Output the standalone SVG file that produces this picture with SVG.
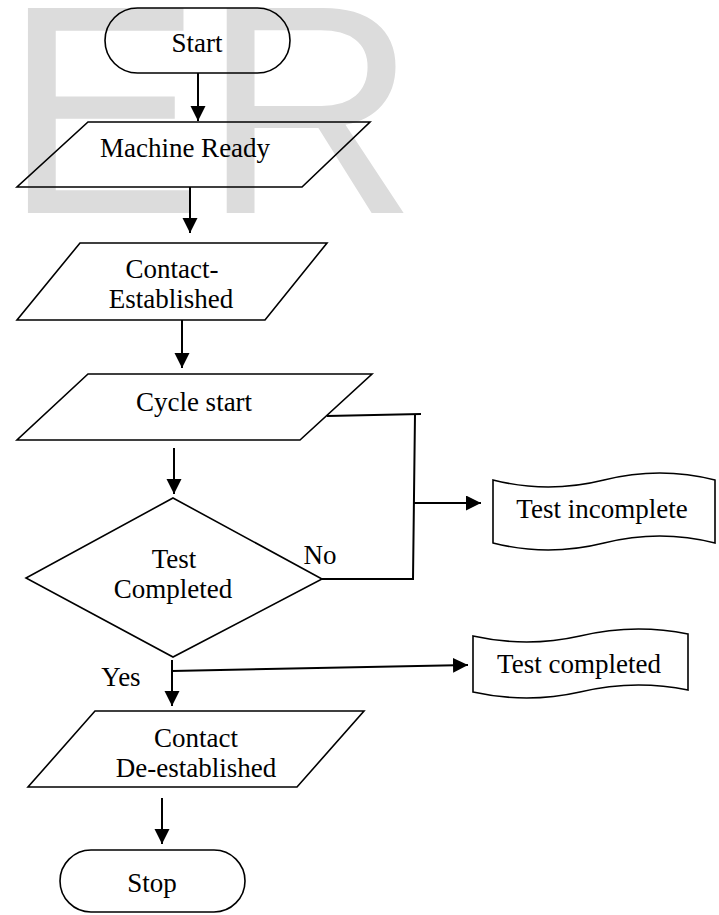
<svg xmlns="http://www.w3.org/2000/svg" width="719" height="915" viewBox="0 0 719 915">
<style>
.shape{fill:none;stroke:#000;stroke-width:1.6}
.conn{fill:none;stroke:#000;stroke-width:2}
.arr{marker-end:url(#ah)}
.t{font-family:"Liberation Serif","Times New Roman",serif;font-size:27px;fill:#000;text-anchor:middle}
.wm{font-family:"Liberation Sans",Arial,sans-serif;font-size:298px;fill:#dcdcdc}
</style>
<defs>
<marker id="ah" markerUnits="userSpaceOnUse" markerWidth="16" markerHeight="16" refX="15" refY="7.5" orient="auto">
<path d="M0,0 L15,7.5 L0,15 Z" fill="#000"/>
</marker>
</defs>
<rect width="719" height="915" fill="#fff"/>
<text class="wm" x="3.5" y="213">ER</text>

<g id="connectors">
<line class="conn arr" x1="198" y1="73" x2="198" y2="121"/>
<line class="conn arr" x1="190" y1="187" x2="190" y2="233"/>
<line class="conn arr" x1="182" y1="320" x2="182" y2="368"/>
<line class="conn arr" x1="174" y1="448" x2="174" y2="494"/>
<polyline class="conn" points="327,416 421,414"/>
<polyline class="conn" points="415,414 413,579 322,579"/>
<line class="conn arr" x1="414" y1="503" x2="481" y2="503"/>
<line class="conn arr" x1="172" y1="660" x2="172" y2="706"/>
<line class="conn arr" x1="172" y1="671" x2="468" y2="665"/>
<line class="conn arr" x1="162" y1="798" x2="162" y2="844"/>
</g>

<g id="start">
<rect class="shape" x="105" y="8" width="185" height="65" rx="32.5"/>
<text class="t" x="197" y="52">Start</text>
</g>
<g id="machine-ready">
<polygon class="shape" points="88,122 370,122 302,187 17,187"/>
<text class="t" x="185" y="157">Machine Ready</text>
</g>
<g id="contact-established">
<polygon class="shape" points="80,243 327,243 265,320 17,320"/>
<text class="t" x="172" y="278">Contact-</text>
<text class="t" x="171" y="308">Established</text>
</g>
<g id="cycle-start">
<polygon class="shape" points="88,374 372,374 300,440 17,440"/>
<text class="t" x="194" y="411">Cycle start</text>
</g>
<g id="test-completed-decision">
<polygon class="shape" points="173,498 322,579 173,657 26,578"/>
<text class="t" x="174" y="568">Test</text>
<text class="t" x="173" y="598">Completed</text>
<text class="t" x="320" y="564">No</text>
<text class="t" x="121" y="686">Yes</text>
</g>
<g id="test-incomplete">
<path class="shape" d="M493,480 Q548,494 604,480 Q660,466 715,480 L715,543 Q660,529 604,543 Q548,557 493,543 Z"/>
<text class="t" x="602" y="518">Test incomplete</text>
</g>
<g id="test-completed">
<path class="shape" d="M473,636 Q527,648 580,636 Q634,623 688,634 L688,690 Q634,679 580,692 Q527,704 473,692 Z"/>
<text class="t" x="579" y="673">Test completed</text>
</g>
<g id="contact-de-established">
<polygon class="shape" points="95,711 364,711 297,787 28,787"/>
<text class="t" x="196" y="747">Contact</text>
<text class="t" x="196" y="777">De-established</text>
</g>
<g id="stop">
<rect class="shape" x="60" y="850" width="185" height="62" rx="31"/>
<text class="t" x="152" y="892">Stop</text>
</g>
</svg>
